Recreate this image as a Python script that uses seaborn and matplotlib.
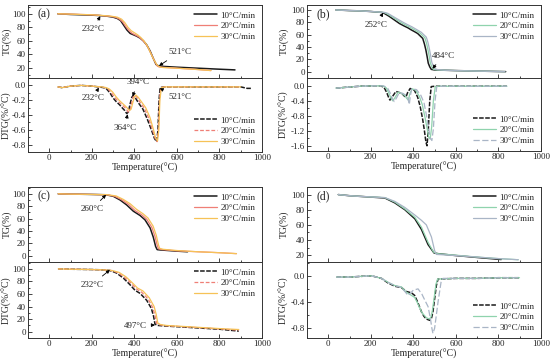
import matplotlib
matplotlib.use("Agg")
import matplotlib.pyplot as plt
import seaborn as sns
from matplotlib.ticker import MultipleLocator, FormatStrFormatter

sns.set_style("ticks")
plt.rcParams['font.family'] = ['Liberation Serif', 'DejaVu Serif']
plt.rcParams['axes.unicode_minus'] = True

labels = ["10°C/min", "20°C/min", "30°C/min"]

# ---------------- Panel (a) ----------------
a_tg_T10 = [40, 100, 150, 200, 232, 270, 300, 320, 335, 350, 365, 380, 395, 410, 427, 442, 458, 474, 489, 502, 510, 517, 600, 700, 800, 873]
a_tg_V10 = [100, 99, 98.5, 98, 97.5, 96.5, 95, 93, 90, 83, 76, 71, 69, 67, 64, 60, 54, 45, 34, 25, 23.5, 22.5, 21, 19.5, 18, 17]
a_tg_T20 = [40, 100, 150, 200, 240, 280, 310, 330, 345, 360, 375, 390, 405, 420, 435, 450, 465, 480, 495, 507, 515, 525, 600, 700, 760]
a_tg_V20 = [100, 99.5, 99, 98.5, 97.5, 96.5, 95, 92, 88, 81, 75, 71, 68.5, 66, 62, 57, 50, 40, 30, 23, 21.5, 21, 19.5, 17.5, 16]
a_tg_T30 = [40, 100, 150, 200, 250, 290, 320, 340, 355, 370, 385, 400, 415, 430, 445, 460, 475, 490, 505, 515, 525, 535, 600, 700, 760]
a_tg_V30 = [100, 99.5, 99, 98.5, 97.5, 96.5, 95, 92, 87, 80, 75, 72, 69, 65, 60, 53, 43, 33, 25, 22, 21, 20.5, 19.5, 17.5, 16]

a_dtg_T10 = [40, 60, 80, 100, 150, 200, 232, 255, 270, 285, 300, 315, 330, 345, 355, 364, 372, 380, 388, 394, 405, 420, 440, 460, 480, 495, 505, 511, 516, 521, 540, 600, 700, 800, 900, 930, 950]
a_dtg_V10 = [-0.02, -0.03, -0.02, -0.01, 0.0, -0.01, -0.02, -0.03, -0.05, -0.1, -0.17, -0.22, -0.26, -0.31, -0.34, -0.38, -0.36, -0.25, -0.16, -0.14, -0.17, -0.24, -0.32, -0.45, -0.6, -0.72, -0.76, -0.6, -0.2, -0.03, -0.02, -0.02, -0.02, -0.02, -0.02, -0.04, -0.04]
a_dtg_T20 = [40, 60, 80, 100, 150, 200, 240, 262, 277, 292, 307, 322, 337, 352, 362, 371, 379, 387, 395, 401, 412, 427, 447, 467, 485, 498, 507, 513, 518, 524, 540, 600, 700, 800, 900]
a_dtg_V20 = [-0.02, -0.03, -0.02, -0.01, 0.0, -0.01, -0.02, -0.03, -0.05, -0.1, -0.16, -0.21, -0.25, -0.29, -0.32, -0.36, -0.34, -0.24, -0.15, -0.13, -0.16, -0.23, -0.31, -0.44, -0.6, -0.72, -0.76, -0.6, -0.2, -0.03, -0.02, -0.02, -0.02, -0.02, -0.02]
a_dtg_T30 = [40, 60, 80, 100, 150, 200, 245, 268, 283, 298, 313, 328, 343, 358, 368, 377, 385, 393, 401, 407, 418, 433, 453, 473, 490, 500, 509, 515, 520, 527, 545, 600, 700, 800, 900]
a_dtg_V30 = [-0.02, -0.03, -0.02, -0.01, 0.0, -0.01, -0.02, -0.03, -0.05, -0.09, -0.15, -0.2, -0.24, -0.28, -0.31, -0.34, -0.32, -0.23, -0.15, -0.13, -0.16, -0.22, -0.3, -0.43, -0.6, -0.71, -0.75, -0.6, -0.2, -0.03, -0.02, -0.02, -0.02, -0.02, -0.02]

# ---------------- Panel (b) ----------------
b_tg_T10 = [36, 100, 150, 200, 252, 263, 285, 310, 335, 357, 375, 389, 405, 420, 432, 444, 452, 459, 465, 470, 477, 484, 500, 550, 600, 700, 800, 834]
b_tg_V10 = [100, 99, 98.5, 97.5, 96, 94.5, 90, 84, 78, 74, 71, 68, 65, 62, 58, 54, 45, 35, 24, 14, 8, 4, 3, 2.5, 2, 1.2, 0.5, 0.3]
b_tg_T20 = [36, 100, 150, 200, 260, 272, 295, 320, 345, 367, 385, 400, 415, 430, 442, 454, 462, 469, 475, 480, 487, 494, 510, 550, 600, 700, 800, 830]
b_tg_V20 = [100, 99, 98.5, 97.5, 96, 94.5, 90, 84.5, 79, 75, 72, 69, 66, 63, 59, 55, 46, 35, 24, 14, 8, 4, 3, 2.5, 2, 1.2, 0.5, 0.3]
b_tg_T30 = [36, 100, 150, 200, 265, 280, 302, 327, 352, 374, 392, 407, 422, 437, 449, 461, 469, 476, 482, 487, 494, 501, 515, 550, 600, 700, 800, 830]
b_tg_V30 = [100, 99, 98.5, 97.5, 96, 94.5, 90, 85, 80, 76, 73, 70, 67, 64, 60, 56, 47, 36, 25, 15, 9, 5, 3.5, 2.5, 2, 1.2, 0.5, 0.3]

b_dtg_T10 = [36, 60, 100, 150, 200, 248, 263, 275, 283, 290, 300, 318, 335, 349, 357, 365, 373, 385, 405, 420, 432, 444, 452, 459, 464, 470, 477, 484, 500, 600, 700, 800, 840]
b_dtg_V10 = [-0.06, -0.05, -0.03, -0.01, 0.0, 0.0, -0.05, -0.18, -0.3, -0.38, -0.3, -0.15, -0.18, -0.22, -0.27, -0.3, -0.18, -0.07, -0.12, -0.3, -0.55, -0.9, -1.2, -1.5, -1.6, -1.2, -0.4, -0.02, -0.01, -0.01, -0.01, -0.01, -0.01]
b_dtg_T20 = [36, 60, 100, 150, 200, 255, 272, 285, 295, 303, 313, 328, 345, 360, 368, 376, 384, 395, 412, 428, 442, 455, 465, 473, 479, 486, 494, 503, 520, 600, 700, 800, 840]
b_dtg_V20 = [-0.06, -0.05, -0.03, -0.01, 0.0, 0.0, -0.05, -0.2, -0.33, -0.4, -0.32, -0.17, -0.2, -0.26, -0.33, -0.38, -0.2, -0.08, -0.12, -0.28, -0.5, -0.85, -1.15, -1.38, -1.42, -1.1, -0.4, -0.02, -0.01, -0.01, -0.01, -0.01, -0.01]
b_dtg_T30 = [36, 60, 100, 150, 200, 260, 278, 292, 302, 310, 320, 334, 350, 365, 374, 381, 385, 392, 415, 435, 450, 462, 472, 480, 487, 494, 502, 510, 525, 600, 700, 800, 840]
b_dtg_V30 = [-0.06, -0.05, -0.03, -0.01, 0.0, 0.0, -0.05, -0.2, -0.35, -0.42, -0.33, -0.18, -0.2, -0.25, -0.32, -0.5, -0.3, -0.08, -0.1, -0.25, -0.45, -0.8, -1.15, -1.4, -1.46, -1.15, -0.4, -0.02, -0.01, -0.01, -0.01, -0.01, -0.01]

# ---------------- Panel (c) ----------------
c_tg_T10 = [42, 100, 150, 200, 266, 301, 333, 364, 395, 427, 450, 474, 489, 500, 507, 520, 560, 600, 650]
c_tg_V10 = [100, 99.5, 99.3, 99, 98.5, 96, 90, 82, 72, 65, 58, 45, 30, 15, 10, 9.5, 8.5, 7.5, 6.5]
c_tg_T20 = [42, 100, 150, 200, 270, 308, 340, 372, 403, 435, 458, 482, 497, 508, 514, 530, 600, 700, 800, 880]
c_tg_V20 = [100, 99.5, 99.3, 99, 98.5, 96, 90.5, 83, 73, 66, 59, 46, 31, 16, 11, 10, 8, 6.5, 5, 3.5]
c_tg_T30 = [42, 100, 150, 200, 275, 315, 348, 380, 410, 440, 464, 488, 503, 513, 519, 535, 600, 700, 800, 880]
c_tg_V30 = [100, 99.5, 99.3, 99, 98.5, 96.5, 91, 84, 75, 68, 61, 48, 33, 18, 12, 10.5, 8.5, 6.5, 5, 3.5]

c_dtg_T10 = [42, 100, 200, 250, 285, 316, 348, 379, 403, 427, 458, 480, 490, 497, 510, 550, 600, 700, 800, 891]
c_dtg_V10 = [100, 99.5, 99, 98.5, 97.5, 93.5, 85.5, 75, 66, 61, 50, 37, 25, 12, 10, 9, 8, 6, 4, 1]
c_dtg_T20 = [42, 100, 200, 250, 290, 322, 354, 385, 410, 434, 465, 487, 497, 505, 517, 550, 600, 700, 800, 891]
c_dtg_V20 = [100, 99.5, 99, 98.5, 97.5, 94, 86.5, 77, 68, 63, 52, 38, 26, 13, 11, 9.5, 8.5, 6.5, 4.5, 2.5]
c_dtg_T30 = [42, 100, 200, 250, 295, 328, 360, 390, 415, 440, 470, 493, 503, 510, 522, 550, 600, 700, 800, 891]
c_dtg_V30 = [100, 99.5, 99, 98.5, 97.5, 94.5, 87.5, 78, 69.5, 65, 54, 40, 27, 14, 11.5, 10, 9, 7, 5, 3.5]

# ---------------- Panel (d) ----------------
d_tg_T10 = [47, 100, 156, 266, 313, 360, 407, 438, 469, 497, 516, 600, 700, 813]
d_tg_V10 = [100, 98.5, 97.5, 95.5, 89, 80, 68, 54, 34, 23, 22, 19.5, 17, 14.3]
d_tg_T20 = [47, 100, 156, 266, 313, 360, 407, 438, 469, 495, 512, 600, 700, 800, 893]
d_tg_V20 = [100, 98.5, 97.5, 96, 90, 81, 70, 57, 37, 24, 22, 20, 17.5, 15.5, 14]
d_tg_T30 = [47, 100, 156, 266, 313, 360, 407, 438, 461, 485, 500, 508, 600, 700, 800, 893]
d_tg_V30 = [100, 98.5, 97.5, 96, 91, 83, 73, 66, 60, 44, 26, 21, 19.5, 17.5, 15.5, 14]

d_dtg_T10 = [39, 100, 150, 203, 250, 281, 313, 344, 367, 391, 406, 420, 438, 450, 461, 477, 485, 492, 500, 508, 516, 600, 700, 800, 899]
d_dtg_V10 = [-0.02, -0.02, -0.01, 0.0, -0.04, -0.11, -0.16, -0.18, -0.24, -0.26, -0.3, -0.4, -0.55, -0.62, -0.66, -0.68, -0.65, -0.55, -0.35, -0.15, -0.05, -0.04, -0.04, -0.03, -0.03]
d_dtg_T20 = [39, 100, 150, 203, 250, 281, 313, 344, 367, 391, 406, 420, 438, 450, 461, 475, 483, 490, 498, 506, 514, 600, 700, 800, 899]
d_dtg_V20 = [-0.02, -0.02, -0.01, 0.0, -0.04, -0.1, -0.15, -0.17, -0.25, -0.3, -0.33, -0.42, -0.55, -0.6, -0.64, -0.66, -0.63, -0.52, -0.33, -0.13, -0.05, -0.04, -0.04, -0.03, -0.03]
d_dtg_T30 = [39, 100, 150, 203, 250, 281, 313, 344, 360, 375, 400, 422, 440, 455, 469, 480, 487, 492, 500, 508, 516, 530, 539, 600, 700, 800, 899]
d_dtg_V30 = [-0.02, -0.02, -0.01, 0.0, -0.04, -0.1, -0.15, -0.18, -0.24, -0.3, -0.22, -0.2, -0.28, -0.38, -0.47, -0.65, -0.8, -0.88, -0.8, -0.6, -0.4, -0.1, -0.04, -0.04, -0.04, -0.03, -0.03]

# ---------------- styling ----------------
W, H = 550, 361


def rect(l, r, t, b):
    return [l / W, 1 - b / H, (r - l) / W, (b - t) / H]


warm = ["#1a1a1a", "#ef7f76", "#f6c257"]
cool = ["#1a1a1a", "#8fd3ad", "#a9b5c6"]
tg_ls = ["-", "-", "-"]
dtg_ls = [(0, (3, 1)), (0, (3, 1.5)), "-"]
dtg_ls_cool = [(0, (3, 1)), "-", (0, (5, 2))]
lws = [1.1, 0.9, 0.9]

fig = plt.figure(figsize=(5.5, 3.61), dpi=100)

FS = 6.5


def style(ax, xlabels, ylim, ymaj, ymin, fmt):
    ax.set_xlim(-100, 1000)
    ax.set_ylim(*ylim)
    ax.xaxis.set_major_locator(MultipleLocator(200))
    ax.xaxis.set_minor_locator(MultipleLocator(100))
    ax.yaxis.set_major_locator(MultipleLocator(ymaj))
    ax.yaxis.set_minor_locator(MultipleLocator(ymin))
    ax.yaxis.set_major_formatter(FormatStrFormatter(fmt))
    ax.tick_params(which='both', direction='in', labelsize=FS, width=0.6, pad=1.5,
                   top=False, right=False)
    ax.tick_params(which='major', length=3)
    ax.tick_params(which='minor', length=1.5)
    if not xlabels:
        ax.tick_params(axis='x', labelbottom=False)
    for s in ax.spines.values():
        s.set_linewidth(0.7)
        s.set_color("#333333")
    ax.set_xlabel("")
    ax.set_ylabel("")


def draw(ax, Ts, Vs, colors, lss, loc):
    for T, V, c, ls, lw, lab in zip(Ts, Vs, colors, lss, lws, labels):
        sns.lineplot(x=T, y=V, ax=ax, color=c, linestyle=ls, linewidth=lw,
                     label=lab, sort=False, estimator=None)
    leg = ax.legend(loc=loc, frameon=False, fontsize=FS, handlelength=2.6,
                    labelspacing=0.25, borderaxespad=0.3, handletextpad=0.4)
    return leg


def arrow(ax, text, xy, xytext):
    ax.annotate(text, xy=xy, xytext=xytext, fontsize=FS, ha='center', va='center',
                arrowprops=dict(arrowstyle='-|>', lw=0.6, color='black',
                                mutation_scale=5, shrinkA=1.5, shrinkB=0))


panels = [
    # name, cols, rows, ylabel right edge x (px)
    ("(a)", (28, 262), (5, 78, 152), 11.5),
    ("(b)", (307, 541), (5, 78, 151), 289),
    ("(c)", (28, 262), (187, 262, 338), 11.5),
    ("(d)", (307, 541), (187, 262, 338), 289),
]

axes = {}
for name, (l, r), (t, m, b), lx in panels:
    ax1 = fig.add_axes(rect(l, r, t, m))
    ax2 = fig.add_axes(rect(l, r, m, b))
    axes[name] = (ax1, ax2, (lx - l) / (r - l))

# (a)
ax1, ax2, _ = axes["(a)"]
draw(ax1, [a_tg_T10, a_tg_T20, a_tg_T30], [a_tg_V10, a_tg_V20, a_tg_V30], warm, tg_ls, 'upper right')
draw(ax2, [a_dtg_T10, a_dtg_T20, a_dtg_T30], [a_dtg_V10, a_dtg_V20, a_dtg_V30], warm, dtg_ls, 'lower right')
style(ax1, False, (5, 113), 20, 10, '%d')
style(ax2, True, (-0.9, 0.1), 0.2, 0.1, '%.1f')
arrow(ax1, "232°C", (240, 96.5), (205, 77))
arrow(ax1, "521°C", (516, 23), (612, 43))
arrow(ax2, "232°C", (233, -0.03), (205, -0.17))
arrow(ax2, "394°C", (392, -0.15), (415, 0.04))
arrow(ax2, "364°C", (368, -0.39), (355, -0.57))
arrow(ax2, "521°C", (519, -0.04), (612, -0.16))

# (b)
ax1, ax2, _ = axes["(b)"]
draw(ax1, [b_tg_T10, b_tg_T20, b_tg_T30], [b_tg_V10, b_tg_V20, b_tg_V30], cool, tg_ls, 'upper right')
draw(ax2, [b_dtg_T10, b_dtg_T20, b_dtg_T30], [b_dtg_V10, b_dtg_V20, b_dtg_V30], cool, dtg_ls_cool, 'lower right')
style(ax1, False, (-10, 108), 20, 10, '%d')
style(ax2, True, (-1.74, 0.21), 0.4, 0.2, '%.1f')
arrow(ax1, "252°C", (258, 95.5), (224, 76))
arrow(ax1, "484°C", (490, 5), (540, 26))

# (c)
ax1, ax2, _ = axes["(c)"]
draw(ax1, [c_tg_T10, c_tg_T20, c_tg_T30], [c_tg_V10, c_tg_V20, c_tg_V30], warm, tg_ls, 'upper right')
draw(ax2, [c_dtg_T10, c_dtg_T20, c_dtg_T30], [c_dtg_V10, c_dtg_V20, c_dtg_V30], warm, dtg_ls, 'upper right')
style(ax1, False, (-10, 111), 20, 10, '%d')
style(ax2, True, (-10, 111), 20, 10, '%d')
arrow(ax1, "260°C", (267, 98.5), (200, 75))
arrow(ax2, "232°C", (285, 98.4), (200, 75))
arrow(ax2, "497°C", (497, 10.7), (405, 9.6))

# (d)
ax1, ax2, _ = axes["(d)"]
draw(ax1, [d_tg_T10, d_tg_T20, d_tg_T30], [d_tg_V10, d_tg_V20, d_tg_V30], cool, tg_ls, 'upper right')
draw(ax2, [d_dtg_T10, d_dtg_T20, d_dtg_T30], [d_dtg_V10, d_dtg_V20, d_dtg_V30], cool, dtg_ls_cool, 'lower right')
style(ax1, False, (11, 110), 20, 10, '%d')
style(ax2, True, (-0.95, 0.21), 0.4, 0.2, '%.1f')

for name, (ax1, ax2, lxa) in axes.items():
    ax1.set_ylabel("TG(%)", fontsize=FS + 0.5)
    ax2.set_ylabel("DTG(%/°C)", fontsize=FS + 0.5)
    ax1.yaxis.set_label_coords(lxa, 0.5)
    ax2.yaxis.set_label_coords(lxa, 0.5)
    ax2.set_xlabel("Temperature(°C)", fontsize=FS + 0.5, labelpad=1)
    ax1.text(0.07, 0.87, name, transform=ax1.transAxes, fontsize=8.5,
             ha='center', va='center')

fig.savefig("out.png", dpi=100)
